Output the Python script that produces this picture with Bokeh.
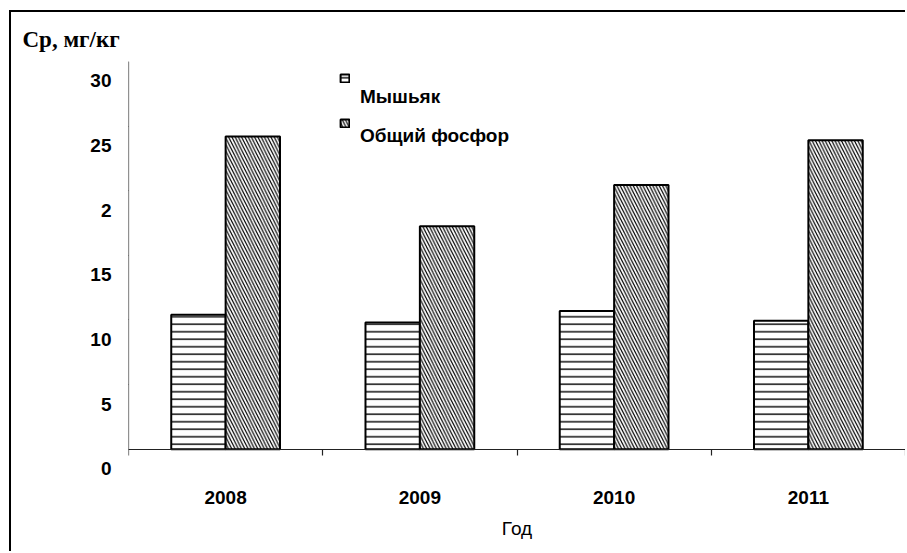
from bokeh.plotting import figure
from bokeh.models import (ColumnDataSource, Range1d, FixedTicker, LinearAxis, Legend,
                          LegendItem, CustomJSTickFormatter)
from bokeh.transform import dodge
from bokeh.embed import file_html
from bokeh.resources import INLINE

# ---- data ----
years = ["2008", "2009", "2010", "2011"]
arsenic = [10.4, 9.8, 10.7, 9.95]
phosphorus = [24.2, 17.25, 20.45, 23.9]
y_ticks = [0, 5, 10, 15, 20, 25, 30]
y_tick_labels = ["0", "5", "10", "15", "2", "25", "30"]
series_names = ["Мышьяк", "Общий фосфор"]
y_title = "Ср, мг/кг"
x_title = "Год"

FONT = "Liberation Sans"

pos = [i + 0.5 for i in range(len(years))]
src = ColumnDataSource(dict(pos=pos, years=years, arsenic=arsenic, phosphorus=phosphorus))

p = figure(width=896, height=541, output_backend="svg", toolbar_location=None,
           x_range=Range1d(0, len(years)), y_range=Range1d(-1.8, 30),
           min_border_left=117, min_border_right=2, min_border_top=49, min_border_bottom=81,
           x_axis_type=None, y_axis_type=None)
p.margin = (10, 0, 0, 9)
p.outline_line_color = None
p.styles = {"border-left": "2px solid black", "border-top": "2px solid black"}

r1 = p.vbar(x=dodge("pos", -0.14), top="arsenic", bottom=0, width=0.28, source=src,
            fill_color="white", line_color="black", line_width=2,
            hatch_pattern="-", hatch_color="black", hatch_scale=7.5, hatch_weight=1.4)
r2 = p.vbar(x=dodge("pos", 0.14), top="phosphorus", bottom=0, width=0.28, source=src,
            fill_color="white", line_color="black", line_width=2,
            hatch_pattern="\\", hatch_color="black", hatch_scale=6.5, hatch_weight=1.2)
# invisible renderer used for text-only legend entries
blank = p.vbar(x=[], top=[], width=0.1, fill_alpha=0, line_alpha=0)

# x axis line at y = 0 with boundary ticks
xline = LinearAxis(fixed_location=0, bounds=(0, len(years)),
                   ticker=FixedTicker(ticks=list(range(len(years) + 1))),
                   formatter=CustomJSTickFormatter(code="return ''"),
                   major_tick_out=6, major_tick_in=0, minor_tick_out=0, minor_tick_in=0,
                   axis_line_color="#222", axis_line_width=1.2,
                   major_tick_line_color="#222", major_tick_line_width=1.2)
p.add_layout(xline, "below")

# year labels + axis title
xlab = LinearAxis(ticker=FixedTicker(ticks=pos),
                  major_label_overrides={pp: yy for pp, yy in zip(pos, years)},
                  axis_line_color=None, major_tick_line_color=None, minor_tick_line_color=None,
                  major_tick_out=0, major_tick_in=0, minor_tick_out=0, minor_tick_in=0,
                  major_label_standoff=18,
                  major_label_text_font=FONT, major_label_text_font_style="bold",
                  major_label_text_font_size="19px", major_label_text_color="black",
                  axis_label=x_title, axis_label_standoff=11,
                  axis_label_text_font=FONT, axis_label_text_font_style="normal",
                  axis_label_text_font_size="19px", axis_label_text_color="black")
p.add_layout(xlab, "below")

# y axis: line and ticks only
yaxis = LinearAxis(fixed_location=0, bounds=(0, 30), ticker=FixedTicker(ticks=y_ticks),
                   formatter=CustomJSTickFormatter(code="return ''"),
                   major_tick_out=6, major_tick_in=0, minor_tick_out=0, minor_tick_in=0,
                   axis_line_color="#222", axis_line_width=1.2,
                   major_tick_line_color="#222", major_tick_line_width=1.2)
p.add_layout(yaxis, "left")

# y tick labels (drawn below their ticks, as in the original)
shift = 1.5
label_pos = [t - shift for t in y_ticks]
ylab = LinearAxis(ticker=FixedTicker(ticks=label_pos),
                  major_label_overrides={lp: lt for lp, lt in zip(label_pos, y_tick_labels)},
                  axis_line_color=None, major_tick_line_color=None, minor_tick_line_color=None,
                  major_tick_out=0, major_tick_in=0, minor_tick_out=0, minor_tick_in=0,
                  major_label_standoff=17,
                  major_label_text_font=FONT, major_label_text_font_style="bold",
                  major_label_text_font_size="19px", major_label_text_color="black")
p.add_layout(ylab, "left")

# unit caption at top left
p.title.text = y_title
p.title.text_font = "Liberation Serif"
p.title.text_font_style = "bold"
p.title.text_font_size = "23px"
p.title.text_color = "black"
p.title.align = "left"
p.title.offset = -106
p.title.vertical_align = "bottom"
p.title.standoff = 20

# legend: glyph boxes and their texts placed separately, as in the original
base = dict(padding=0, margin=0, border_line_color=None, background_fill_alpha=0,
            label_text_font=FONT, label_text_font_style="bold", label_text_color="black")
glyph_opts = dict(glyph_width=11, glyph_height=10, label_standoff=0, label_height=10,
                  label_text_font_size="1px", **base)
text_opts = dict(glyph_width=1, glyph_height=1, label_standoff=0,
                 label_text_font_size="19px", **base)
g1 = Legend(items=[LegendItem(label="", renderers=[r1])], location=(211, 389), **glyph_opts)
g2 = Legend(items=[LegendItem(label="", renderers=[r2])], location=(211, 344), **glyph_opts)
t1 = Legend(items=[LegendItem(label=series_names[0], renderers=[blank])], location=(231, 364), **text_opts)
t2 = Legend(items=[LegendItem(label=series_names[1], renderers=[blank])], location=(231, 325), **text_opts)
for lg in (g1, g2, t1, t2):
    p.add_layout(lg, "center")

open("out.html", "w").write(file_html(p, INLINE))
